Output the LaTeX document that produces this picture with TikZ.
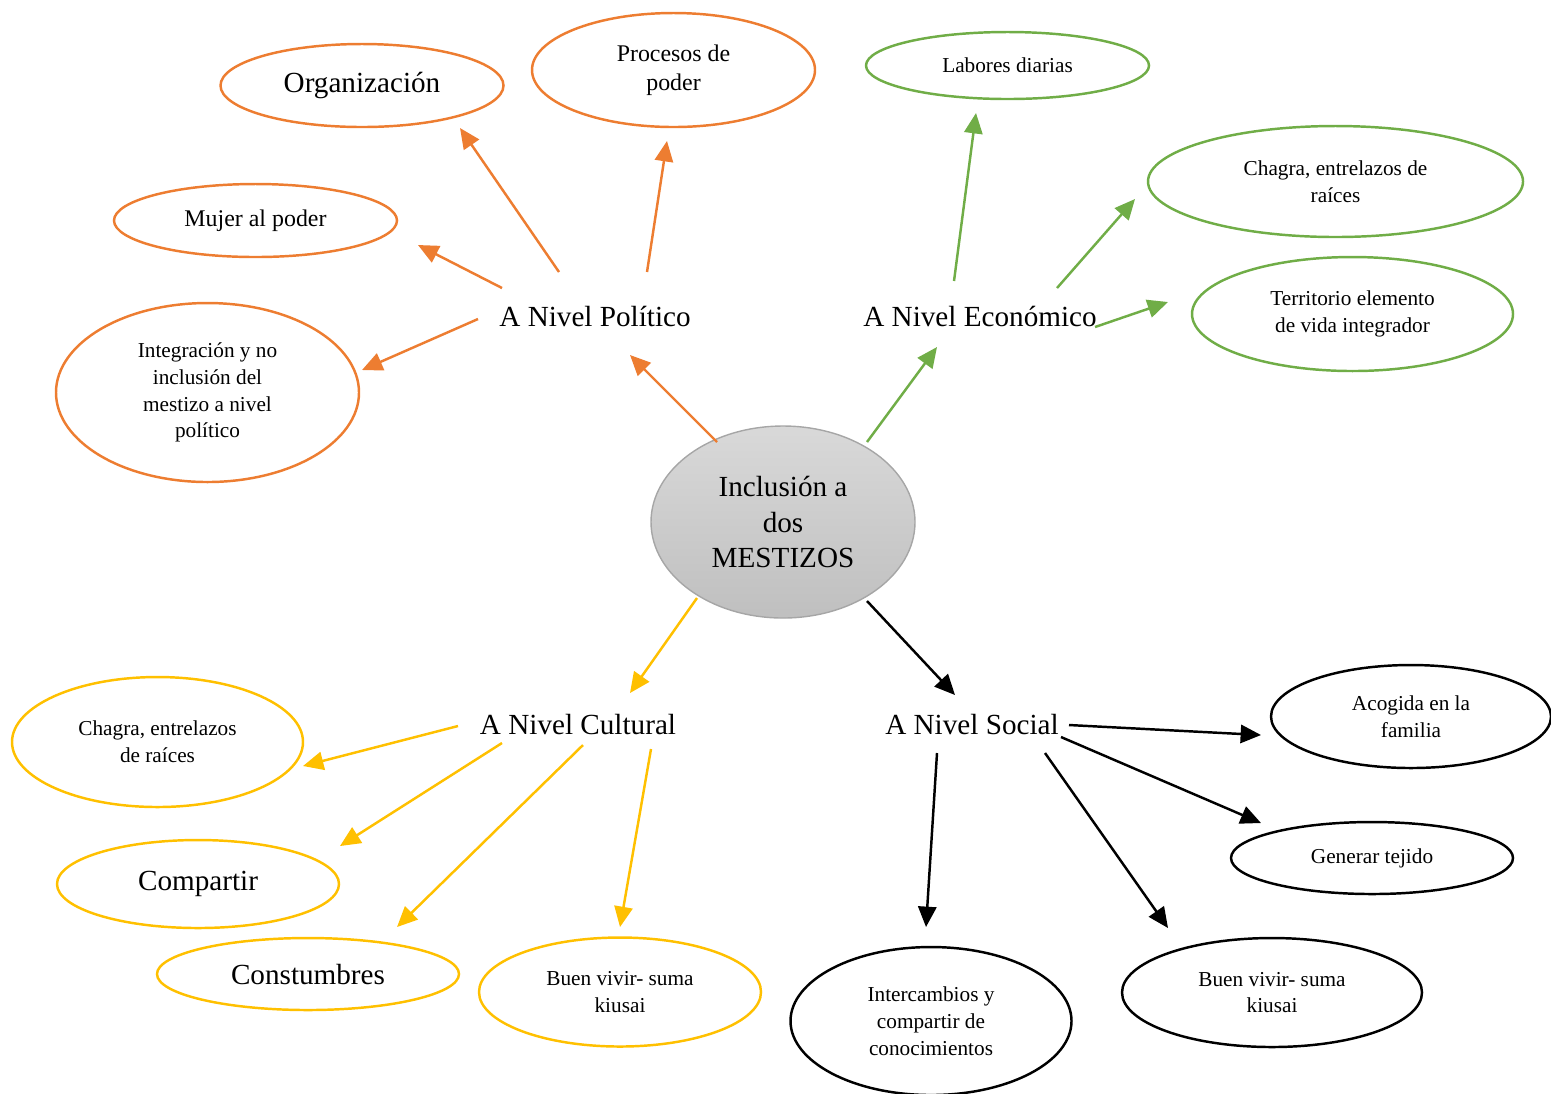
\documentclass[tikz,border=0pt]{standalone}
\usepackage{fontspec}
\setmainfont{Liberation Serif}
\usetikzlibrary{shapes,arrows.meta}

\definecolor{naranja}{HTML}{ED7D31}
\definecolor{verde}{HTML}{70AD47}
\definecolor{amarillo}{HTML}{FFC000}

\newcommand{\grande}{\fontsize{8.3}{10.2}\selectfont}
\newcommand{\medio}{\fontsize{6.8}{8.3}\selectfont}
\newcommand{\chico}{\fontsize{6.05}{7.6}\selectfont}

\begin{document}
\begin{tikzpicture}[
  idea/.style={ellipse, draw, line width=0.7pt, inner sep=0pt, align=center, font=\chico},
  nivel/.style={inner sep=1pt, font=\grande},
  flecha/.style={line width=0.7pt, -{Triangle[length=5.8pt,width=5.2pt]}}
]
\useasboundingbox (0,0) rectangle (15.51,-10.93);

% centro
\node[ellipse, draw=gray!70, line width=0.4pt, top color=gray!30, bottom color=gray!50,
  minimum width=2.64cm, minimum height=1.92cm, inner sep=0pt, align=center, font=\grande]
  (centro) at (7.83,-5.22) {Inclusión a\\dos\\MESTIZOS};

% niveles
\node[nivel] (pol) at (5.95,-3.16) {A Nivel Político};
\node[nivel] (eco) at (9.80,-3.16) {A Nivel Económico};
\node[nivel] (cult) at (5.78,-7.24) {A Nivel Cultural};
\node[nivel] (soc) at (9.72,-7.24) {A Nivel Social};

% politico
\node[idea, draw=naranja, minimum width=2.83cm, minimum height=0.83cm, font=\grande] (org) at (3.62,-0.855) {Organización};
\node[idea, draw=naranja, minimum width=2.83cm, minimum height=1.14cm, font=\medio] (proc) at (6.735,-0.70) {Procesos de\\poder};
\node[idea, draw=naranja, minimum width=2.83cm, minimum height=0.73cm, font=\medio] (mujer) at (2.555,-2.205) {Mujer al poder};
\node[idea, draw=naranja, minimum width=3.03cm, minimum height=1.79cm] (integ) at (2.075,-3.925) {Integración y no\\inclusión del\\mestizo a nivel\\político};

% economico
\node[idea, draw=verde, minimum width=2.83cm, minimum height=0.67cm] (labores) at (10.075,-0.655) {Labores diarias};
\node[idea, draw=verde, minimum width=3.75cm, minimum height=1.11cm] (chagra) at (13.355,-1.815) {Chagra, entrelazos de\\raíces};
\node[idea, draw=verde, minimum width=3.21cm, minimum height=1.14cm] (terri) at (13.525,-3.14) {Territorio elemento\\de vida integrador};

% cultural
\node[idea, draw=amarillo, minimum width=2.91cm, minimum height=1.30cm] (chagrab) at (1.575,-7.42) {Chagra, entrelazos\\de raíces};
\node[idea, draw=amarillo, minimum width=2.82cm, minimum height=0.88cm, font=\grande] (compartir) at (1.98,-8.84) {Compartir};
\node[idea, draw=amarillo, minimum width=3.02cm, minimum height=0.72cm, font=\grande] (costum) at (3.08,-9.74) {Constumbres};
\node[idea, draw=amarillo, minimum width=2.82cm, minimum height=1.09cm] (buen) at (6.20,-9.92) {Buen vivir- suma\\kiusai};

% social
\node[idea, minimum width=2.80cm, minimum height=1.03cm] (acogida) at (14.11,-7.165) {Acogida en la\\familia};
\node[idea, minimum width=2.82cm, minimum height=0.72cm] (tejido) at (13.72,-8.58) {Generar tejido};
\node[idea, minimum width=3.00cm, minimum height=1.09cm] (buenb) at (12.72,-9.925) {Buen vivir- suma\\kiusai};
\node[idea, minimum width=2.81cm, minimum height=1.48cm] (inter) at (9.31,-10.21) {Intercambios y\\compartir de\\conocimientos};

% puntos de las flechas
\coordinate (cp) at (7.17,-4.42); \coordinate (pc) at (6.30,-3.55);
\coordinate (ce) at (8.67,-4.42); \coordinate (ec) at (9.37,-3.47);
\coordinate (cc) at (6.97,-5.98); \coordinate (uc) at (6.30,-6.93);
\coordinate (cs) at (8.67,-6.01); \coordinate (sc) at (9.55,-6.95);

\coordinate (p1) at (5.59,-2.72); \coordinate (org1) at (4.60,-1.28);
\coordinate (p2) at (6.47,-2.72); \coordinate (proc1) at (6.67,-1.41);
\coordinate (p3) at (5.02,-2.88); \coordinate (mujer1) at (4.18,-2.45);
\coordinate (p4) at (4.78,-3.19); \coordinate (integ1) at (3.62,-3.70);

\coordinate (e1) at (9.54,-2.81); \coordinate (labores1) at (9.76,-1.13);
\coordinate (e2) at (10.57,-2.88); \coordinate (chagra1) at (11.35,-1.99);
\coordinate (e3) at (10.95,-3.27); \coordinate (terri1) at (11.68,-3.02);

\coordinate (u1) at (4.58,-7.26); \coordinate (chagrab1) at (3.03,-7.66);
\coordinate (u2) at (5.02,-7.43); \coordinate (compartir1) at (3.40,-8.46);
\coordinate (u3) at (5.83,-7.45); \coordinate (costum1) at (3.97,-9.27);
\coordinate (u4) at (6.51,-7.49); \coordinate (buen1) at (6.20,-9.27);

\coordinate (s1) at (10.69,-7.25); \coordinate (acogida1) at (12.61,-7.35);
\coordinate (s2) at (10.61,-7.37); \coordinate (tejido1) at (12.61,-8.23);
\coordinate (s3) at (10.45,-7.53); \coordinate (buenb1) at (11.68,-9.28);
\coordinate (s4) at (9.37,-7.53); \coordinate (inter1) at (9.26,-9.27);

% flechas
\draw[flecha, naranja] (cp) -- (pc);
\draw[flecha, naranja] (p1) -- (org1);
\draw[flecha, naranja] (p2) -- (proc1);
\draw[flecha, naranja] (p3) -- (mujer1);
\draw[flecha, naranja] (p4) -- (integ1);

\draw[flecha, verde] (ce) -- (ec);
\draw[flecha, verde] (e1) -- (labores1);
\draw[flecha, verde] (e2) -- (chagra1);
\draw[flecha, verde] (e3) -- (terri1);

\draw[flecha, amarillo] (cc) -- (uc);
\draw[flecha, amarillo] (u1) -- (chagrab1);
\draw[flecha, amarillo] (u2) -- (compartir1);
\draw[flecha, amarillo] (u3) -- (costum1);
\draw[flecha, amarillo] (u4) -- (buen1);

\draw[flecha] (cs) -- (sc);
\draw[flecha] (s1) -- (acogida1);
\draw[flecha] (s2) -- (tejido1);
\draw[flecha] (s3) -- (buenb1);
\draw[flecha] (s4) -- (inter1);
\end{tikzpicture}
\end{document}
